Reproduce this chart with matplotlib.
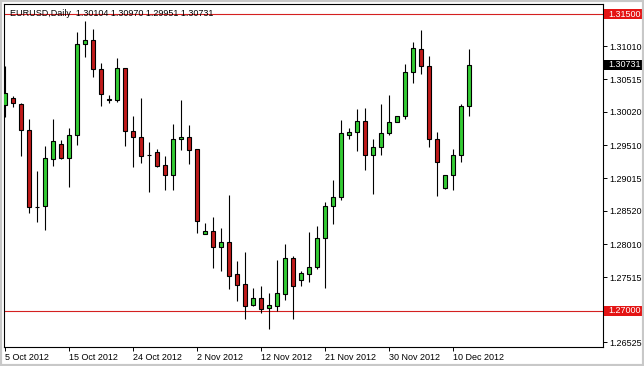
import matplotlib
matplotlib.use("Agg")
import matplotlib.pyplot as plt
from matplotlib.patches import Rectangle
from matplotlib.transforms import blended_transform_factory
import numpy as np

plt.rcParams['font.family'] = ['Liberation Sans', 'DejaVu Sans']

# daily EURUSD candles, 5 Oct 2012 .. 12 Dec 2012 (incl. Sunday bars)
opens = [1.30117, 1.30223, 1.30136, 1.29738, 1.28571, 1.28586, 1.29299, 1.29526, 1.29314, 1.29662,
         1.31041, 1.31102, 1.30671, 1.30202, 1.30202, 1.30677, 1.29723, 1.29632, 1.29368, 1.29405,
         1.29208, 1.29056, 1.29602, 1.29632, 1.29450, 1.28162, 1.28208, 1.27974, 1.28041, 1.27556,
         1.27405, 1.27091, 1.27197, 1.27050, 1.27080, 1.27265, 1.27798, 1.27474, 1.27565, 1.27662,
         1.28102, 1.28586, 1.28723, 1.29662, 1.29708, 1.29874, 1.29368, 1.29489, 1.29692, 1.29859,
         1.29959, 1.30617, 1.30965, 1.30708, 1.29602, 1.28868, 1.29056, 1.29359, 1.30104]
highs = [1.30712, 1.30253, 1.30152, 1.29905, 1.29117, 1.29500, 1.29909, 1.29586, 1.29768, 1.31223,
         1.31394, 1.31273, 1.30753, 1.30273, 1.30829, 1.30680, 1.29955, 1.30223, 1.29556, 1.29450,
         1.29348, 1.29829, 1.30197, 1.29818, 1.29455, 1.28329, 1.28420, 1.28253, 1.28758, 1.27758,
         1.27889, 1.27348, 1.27374, 1.27273, 1.27773, 1.28015, 1.27833, 1.27611, 1.28197, 1.28288,
         1.28656, 1.28980, 1.29894, 1.29773, 1.30061, 1.30071, 1.29606, 1.30136, 1.30268, 1.29959,
         1.30742, 1.31071, 1.31258, 1.30864, 1.29708, 1.29056, 1.29455, 1.30136, 1.30970]
lows = [1.29939, 1.30095, 1.29348, 1.28480, 1.28344, 1.28227, 1.29202, 1.29299, 1.28883, 1.29515,
        1.30844, 1.30541, 1.30111, 1.30147, 1.30171, 1.29500, 1.29186, 1.29247, 1.28808, 1.29177,
        1.28833, 1.28833, 1.29439, 1.29227, 1.28186, 1.28160, 1.27652, 1.27611, 1.27338, 1.27156,
        1.26883, 1.27076, 1.26965, 1.26723, 1.27005, 1.27167, 1.26883, 1.27383, 1.27444, 1.27632,
        1.27344, 1.28323, 1.28677, 1.29611, 1.29429, 1.29136, 1.28777, 1.29368, 1.29662, 1.29859,
        1.29914, 1.30450, 1.30586, 1.29489, 1.28747, 1.28853, 1.28833, 1.29262, 1.29951]
closes = [1.30308, 1.30147, 1.29738, 1.28571, 1.28580, 1.29314, 1.29571, 1.29314, 1.29662, 1.31045,
          1.31102, 1.30671, 1.30283, 1.30208, 1.30677, 1.29723, 1.29632, 1.29353, 1.29362, 1.29202,
          1.29056, 1.29602, 1.29636, 1.29444, 1.28368, 1.28208, 1.27974, 1.28041, 1.27535, 1.27398,
          1.27080, 1.27197, 1.27035, 1.27086, 1.27268, 1.27798, 1.27383, 1.27576, 1.27662, 1.28102,
          1.28586, 1.28723, 1.29692, 1.29708, 1.29874, 1.29359, 1.29489, 1.29702, 1.29859, 1.29959,
          1.30617, 1.30980, 1.30708, 1.29602, 1.29253, 1.29056, 1.29359, 1.30102, 1.30731]

date_labels = ['5 Oct 2012', '15 Oct 2012', '24 Oct 2012', '2 Nov 2012',
               '12 Nov 2012', '21 Nov 2012', '30 Nov 2012', '10 Dec 2012']
price_ticks = [1.31010, 1.30515, 1.30020, 1.29510, 1.29015, 1.28520, 1.28010, 1.27515, 1.26525]
level_lines = [1.31500, 1.27000]
title = 'EURUSD,Daily  1.30104 1.30970 1.29951 1.30731'

o = np.array(opens); h = np.array(highs); l = np.array(lows); c = np.array(closes)
x = np.arange(len(o))
up = c >= o

fig = plt.figure(figsize=(6.44, 3.66), dpi=100)
ax = fig.add_axes([4/644, 19.5/366, 599/644, 342.5/366])

for lv in level_lines:
    ax.axhline(lv, color='#d42020', lw=0.8, zorder=1)

ax.vlines(x, l, h, color='black', lw=0.8, zorder=2)
body_lo = np.minimum(o, c)
body_h = np.abs(c - o)
ax.bar(x[up], body_h[up], bottom=body_lo[up], width=0.6, color='#33cc33',
       edgecolor='black', lw=0.8, zorder=3)
ax.bar(x[~up], body_h[~up], bottom=body_lo[~up], width=0.6, color='#c01a1a',
       edgecolor='black', lw=0.8, zorder=3)

ax.set_xlim(-0.125, 74.75)
ax.set_ylim(1.26462, 1.31652)

ax.set_xticks(np.arange(0, 8 * len(date_labels), 8))
ax.set_xticklabels(date_labels, ha='left')
ax.yaxis.tick_right()
ax.set_yticks(price_ticks)
ax.set_yticklabels(['%.5f' % p for p in price_ticks])
ax.tick_params(axis='both', labelsize=6.5, length=3, width=0.7, color='black', pad=1.5)
ax.tick_params(axis='x', pad=2)
for s in ax.spines.values():
    s.set_linewidth(0.8)

# price boxes on the right scale
tr = blended_transform_factory(ax.transAxes, ax.transData)
boxes = [(level_lines[0], '#e41414'), (closes[-1], 'black'), (level_lines[1], '#e41414')]
for val, col in boxes:
    ax.add_patch(Rectangle((1.0017, val - 0.00076), 0.0634, 0.00152, transform=tr,
                           facecolor=col, edgecolor='none', clip_on=False, zorder=5))
    ax.text(1.0085, val, '%.5f' % val, transform=tr, color='white', fontsize=6.5,
            va='center', ha='left', zorder=6, clip_on=False)

fig.text(10/644, 1 - 13/366, title, fontsize=6.5, va='center', ha='left', zorder=10)

fig.patches.append(Rectangle((0, 0), 1, 1, transform=fig.transFigure, fill=False,
                             edgecolor='#c8c8c8', lw=3))

fig.savefig('out.png', dpi=100)
